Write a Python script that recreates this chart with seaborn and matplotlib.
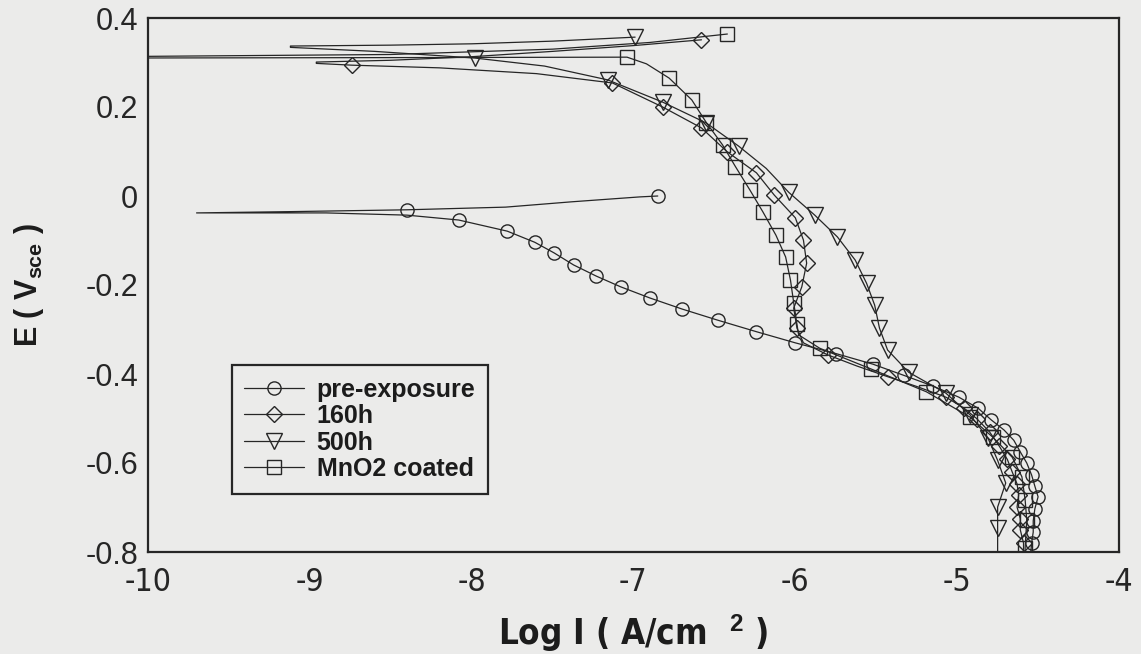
import matplotlib
matplotlib.use("Agg")
import matplotlib.pyplot as plt
import seaborn as sns

# ---------------------------------------------------------------
# Potentiodynamic polarisation curves: log current density vs. E
# Each series runs from the cathodic end, through the corrosion
# potential spike, and back out along the anodic branch.
# *_marks lists the indices of the recorded points shown with symbols.
# ---------------------------------------------------------------

pre_logi = [-4.55, -4.54, -4.53, -4.53, -4.52, -4.50, -4.52, -4.54, -4.57, -4.61, -4.65,
            -4.71, -4.79, -4.87, -4.99, -5.15, -5.33, -5.52, -5.75, -6.00, -6.24,
            -6.48, -6.70, -6.90, -7.08, -7.23, -7.37, -7.49, -7.61, -7.78, -8.08,
            -8.40, -8.90, -9.70, -9.10, -8.40, -7.79, -7.38, -6.96, -6.85]
pre_e = [-0.820, -0.780, -0.755, -0.730, -0.703, -0.676, -0.652, -0.627, -0.600, -0.575, -0.549,
         -0.526, -0.503, -0.477, -0.452, -0.427, -0.403, -0.378, -0.354, -0.330, -0.305,
         -0.279, -0.254, -0.229, -0.204, -0.180, -0.155, -0.128, -0.104, -0.079, -0.054,
         -0.043, -0.038, -0.038, -0.035, -0.031, -0.025, -0.013, -0.002, 0.000]
pre_marks = list(range(1, 31)) + [35, 39]

h160_logi = [-4.59, -4.59, -4.61, -4.61, -4.63, -4.62, -4.63, -4.66, -4.69, -4.74, -4.80,
             -4.88, -4.96, -5.07, -5.25, -5.43, -5.62, -5.80, -5.95,
             -5.99, -6.01, -5.96, -5.93, -5.95, -6.00, -6.13, -6.24, -6.42, -6.58, -6.82, -7.13,
             -7.60, -8.20, -8.74, -8.96, -8.96, -8.50, -8.00, -7.50, -7.00, -6.58]
h160_e = [-0.820, -0.780, -0.750, -0.725, -0.699, -0.672, -0.647, -0.620, -0.592, -0.562, -0.530,
          -0.500, -0.476, -0.452, -0.428, -0.406, -0.382, -0.357, -0.330,
          -0.297, -0.252, -0.204, -0.151, -0.099, -0.049, 0.002, 0.052, 0.099, 0.153, 0.200, 0.254,
          0.275, 0.288, 0.294, 0.298, 0.301, 0.305, 0.313, 0.325, 0.338, 0.351]
h160_marks = list(range(1, 14)) + [15, 17] + list(range(19, 31)) + [33, 40]

h500_logi = [-4.75, -4.75, -4.75, -4.70, -4.75, -4.81, -4.92, -5.07, -5.30, -5.43, -5.48,
             -5.51, -5.56, -5.63, -5.74, -5.88, -6.04, -6.18, -6.35, -6.55, -6.82, -7.16,
             -7.55, -7.98, -8.60, -9.12, -9.12, -8.50, -8.00, -7.50, -6.99]
h500_e = [-0.820, -0.746, -0.699, -0.645, -0.594, -0.544, -0.492, -0.443, -0.396, -0.346, -0.297,
          -0.245, -0.196, -0.144, -0.092, -0.043, 0.008, 0.062, 0.112, 0.164, 0.211, 0.261,
          0.292, 0.310, 0.325, 0.334, 0.337, 0.339, 0.342, 0.348, 0.357]
h500_marks = list(range(1, 17)) + [18, 19, 20, 21, 23, 30]

mno2_logi = [-4.58, -4.58, -4.57, -4.58, -4.60, -4.66, -4.78, -4.92, -5.19, -5.53, -5.85,
             -5.98, -5.99, -6.01, -6.03, -6.06, -6.12, -6.20, -6.28, -6.37, -6.45, -6.55,
             -6.64, -6.78, -6.92, -7.04, -8.50, -10.30, -10.30, -8.50, -7.50, -6.90, -6.42]
mno2_e = [-0.820, -0.790, -0.728, -0.683, -0.631, -0.587, -0.542, -0.497, -0.440, -0.389, -0.342,
          -0.312, -0.288, -0.240, -0.189, -0.137, -0.088, -0.036, 0.013, 0.066, 0.115, 0.165,
          0.216, 0.265, 0.297, 0.312, 0.311, 0.310, 0.313, 0.318, 0.330, 0.345, 0.364]
mno2_marks = list(range(1, 11)) + list(range(12, 24)) + [25, 32]

x_ticks = [-10, -9, -8, -7, -6, -5, -4]
x_tick_labels = ["-10", "-9", "-8", "-7", "-6", "-5", "-4"]
y_ticks = [0.4, 0.2, 0.0, -0.2, -0.4, -0.6, -0.8]
y_tick_labels = ["0.4", "0.2", "0", "-0.2", "-0.4", "-0.6", "-0.8"]

# ---------------------------------------------------------------
sns.set_theme(style="white")
plt.rcParams["font.family"] = ["Liberation Sans", "DejaVu Sans"]
plt.rcParams["axes.unicode_minus"] = False
plt.rcParams["mathtext.fontset"] = "custom"
plt.rcParams["mathtext.rm"] = "Liberation Sans:bold"
plt.rcParams["mathtext.default"] = "rm"

paper = "#ebebea"
ink = "#262626"
text_ink = "#1c1c1c"
narrow = ["Liberation Sans Narrow", "DejaVu Sans"]

fig = plt.figure(figsize=(11.41, 6.54), dpi=100, facecolor=paper)
W, H = 1141, 654
ax = fig.add_axes([148 / W, 1 - 552 / H, (1119 - 148) / W, (552 - 18) / H])
ax.set_facecolor(paper)

series = [
    ("pre-exposure", pre_logi, pre_e, pre_marks, "o", 9.5),
    ("160h", h160_logi, h160_e, h160_marks, "D", 8.5),
    ("500h", h500_logi, h500_e, h500_marks, "v", 12.0),
    ("MnO2 coated", mno2_logi, mno2_e, mno2_marks, "s", 9.5),
]
for label, xs, ys, marks, marker, ms in series:
    sns.lineplot(x=xs, y=ys, sort=False, estimator=None, ax=ax, color=ink,
                 linewidth=0.9, marker=marker, markersize=ms, markevery=marks,
                 markerfacecolor="none", markeredgecolor=ink, markeredgewidth=1.0,
                 label=label)

ax.set_xlim(-10, -4)
ax.set_ylim(-0.8, 0.4)
ax.set_xticks(x_ticks)
ax.set_xticklabels(x_tick_labels, family=narrow, stretch="condensed",
                   fontsize=23, color=text_ink)
ax.set_yticks(y_ticks)
ax.set_yticklabels(y_tick_labels, fontsize=22, color=text_ink)
ax.tick_params(axis="both", direction="in", length=10, width=1.0, colors=ink,
               top=False, right=False)
ax.tick_params(axis="x", pad=11)
ax.tick_params(axis="y", pad=7)
for sp in ax.spines.values():
    sp.set_visible(True)
    sp.set_linewidth(1.6)
    sp.set_color(ink)

ax.set_xlabel("Log I ( A/cm  $^{2}$ )", family=narrow, stretch="condensed",
              fontsize=25, fontweight="bold", color=text_ink, labelpad=10)
ax.set_ylabel("E ( V$_{sce}$ )", fontsize=22, fontweight="bold", color=text_ink)
ax.yaxis.set_label_coords((46 - 148) / (1119 - 148), 0.5)

leg = ax.legend(loc="upper left", bbox_to_anchor=(0.086, 0.35), frameon=True,
                fancybox=False, edgecolor=ink, facecolor=paper, framealpha=1,
                prop={"weight": "bold", "size": 18}, handlelength=2.4,
                handletextpad=0.5, labelspacing=0.1, borderpad=0.5,
                borderaxespad=0)
leg.get_frame().set_linewidth(1.6)
for t in leg.get_texts():
    t.set_color(text_ink)

fig.savefig("out.png", dpi=100, facecolor=paper)
